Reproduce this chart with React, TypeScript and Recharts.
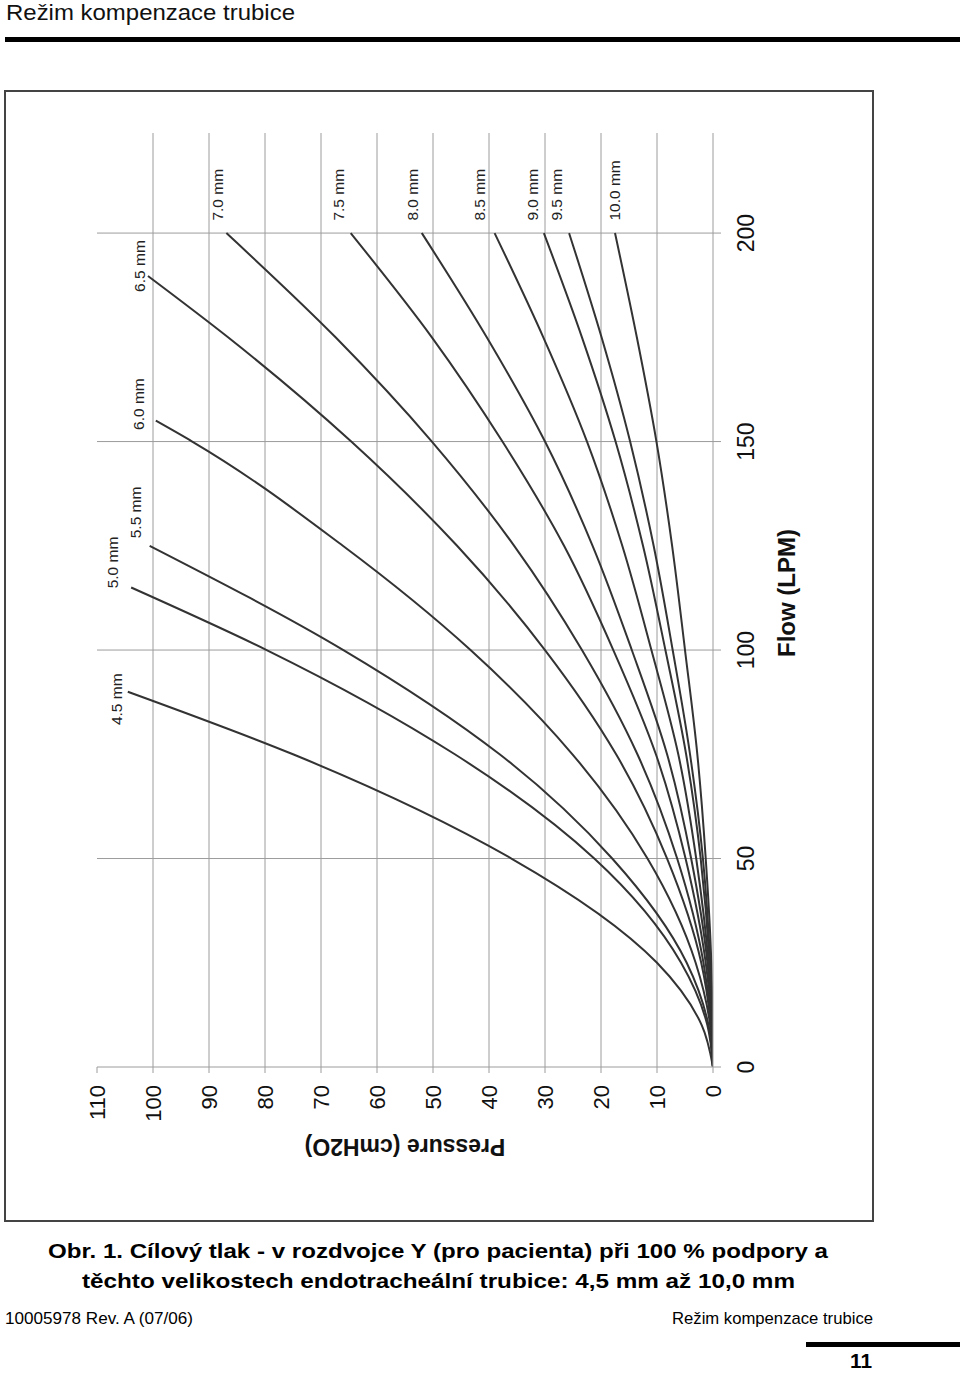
import React from 'react';
import { LineChart, Line, XAxis, YAxis, CartesianGrid, ReferenceDot } from 'recharts';

// flow (LPM) sample points; each curve stops at its own END_FLOW
const FLOW_STEPS = [0, 10, 25, 50, 75, 100, 125, 150, 175, 200];
const TUBES = ['4.5 mm', '5.0 mm', '5.5 mm', '6.0 mm', '6.5 mm', '7.0 mm', '7.5 mm', '8.0 mm', '8.5 mm', '9.0 mm', '9.5 mm', '10.0 mm'];
const END_FLOW = [90, 115, 125, 155, 189.7, 200, 200, 200, 200, 200, 200, 200];

// pressure (cmH2O) at FLOW_STEPS below END_FLOW, last value is at END_FLOW
const P_45 = [0, 2.0, 10.0, 36.0, 75.0, 104.5];
const P_50 = [0, 1.0, 5.7, 21.2, 46.1, 79.7, 103.9];
const P_55 = [0, 0.8, 4.7, 18.0, 38.1, 66.0, 100.6];
const P_60 = [0, 0.5, 3.1, 11.7, 25.1, 43.3, 66.1, 93.0, 99.5];
const P_65 = [0, 0.4, 2.1, 8.2, 17.3, 30.0, 45.7, 64.6, 86.6, 100.9];
const P_70 = [0, 0.3, 1.7, 6.4, 13.5, 23.4, 35.5, 50.2, 67.4, 86.9];
const P_75 = [0, 0.2, 1.3, 4.9, 10.2, 17.8, 26.6, 37.6, 50.2, 64.7];
const P_80 = [0, 0.2, 1.0, 3.9, 8.2, 14.5, 21.5, 30.0, 40.4, 52.0];
const P_85 = [0, 0.1, 0.8, 3.0, 6.2, 11.0, 16.2, 22.5, 30.3, 39.0];
const P_90 = [0, 0.1, 0.6, 2.2, 4.8, 8.5, 12.5, 17.4, 23.4, 30.2];
const P_95 = [0, 0.1, 0.5, 1.8, 4.1, 7.2, 10.6, 14.8, 19.9, 25.7];
const P_100 = [0, 0.1, 0.3, 1.3, 2.8, 5.0, 7.3, 10.1, 13.6, 17.5];
const PRESSURES = [P_45, P_50, P_55, P_60, P_65, P_70, P_75, P_80, P_85, P_90, P_95, P_100];

// where each tube label starts (flow, pressure)
const LABEL_FLOW = [82, 114.8, 126.8, 152.8, 185.9, 203, 203, 203, 203, 203, 203, 203];
const LABEL_P = [106.5, 107.3, 103.1, 102.6, 102.4, 88.5, 66.9, 53.6, 41.7, 32.2, 28.0, 17.6];

const FLOW_TICKS = [0, 50, 100, 150, 200];
const PRESSURE_TICKS = [0, 10, 20, 30, 40, 50, 60, 70, 80, 90, 100, 110];
const FLOW_GRID = [50, 100, 150, 200];
const PRESSURE_GRID = [10, 20, 30, 40, 50, 60, 70, 80, 90, 100];

const FONT = '"Liberation Sans", Arial, Helvetica, sans-serif';
const GRID = '#9c9c9c';
const INK = '#333333';

const CHART_W = 1130;
const CHART_H = 868;

function seriesFor(i: number) {
  const ps = PRESSURES[i];
  const steps = FLOW_STEPS.filter((f) => f < END_FLOW[i]);
  return ps.map((p, k) => ({ flow: k < steps.length ? steps[k] : END_FLOW[i], p }));
}

const FlowTick = (props: any) => (
  <text x={props.x} y={props.y + 23} textAnchor="middle" dominantBaseline="central"
    fontFamily={FONT} fontSize={23} fill="#111">
    {props.payload.value}
  </text>
);

const PressureTick = (props: any) => (
  <text x={props.x - 10} y={props.y} textAnchor="end" dominantBaseline="central"
    fontFamily={FONT} fontSize={22} fill="#111">
    {props.payload.value}
  </text>
);

function TubeChart() {
  return (
    <LineChart width={CHART_W} height={CHART_H} margin={{ top: 92, right: 42, bottom: 100, left: 94 }}>
      <CartesianGrid stroke={GRID} horizontalValues={PRESSURE_GRID} verticalValues={FLOW_GRID} />
      <XAxis
        type="number"
        dataKey="flow"
        domain={[0, 224]}
        ticks={FLOW_TICKS}
        allowDataOverflow
        height={60}
        tickSize={8}
        axisLine={{ stroke: GRID }}
        tickLine={{ stroke: GRID }}
        tick={<FlowTick />}
        label={{
          content: (p: any) => (
            <text x={p.viewBox.x + p.viewBox.width / 2 + 7} y={p.viewBox.y + 73}
              textAnchor="middle" dominantBaseline="central"
              fontFamily={FONT} fontSize={24} fontWeight="bold" fill="#111">
              Flow (LPM)
            </text>
          ),
        }}
      />
      <YAxis
        type="number"
        dataKey="p"
        domain={[0, 110]}
        ticks={PRESSURE_TICKS}
        allowDataOverflow
        width={60}
        tickSize={6}
        axisLine={{ stroke: GRID }}
        tickLine={{ stroke: GRID }}
        tick={<PressureTick />}
        label={{
          content: (p: any) => {
            const cx = 74;
            const cy = p.viewBox.y + p.viewBox.height / 2;
            return (
              <text x={cx} y={cy} transform={`rotate(-90 ${cx} ${cy})`}
                textAnchor="middle" dominantBaseline="central"
                fontFamily={FONT} fontSize={23} fontWeight="bold" fill="#111">
                Pressure (cmH2O)
              </text>
            );
          },
        }}
      />
      {TUBES.map((name, i) => (
        <Line
          key={name}
          data={seriesFor(i)}
          dataKey="p"
          type="monotone"
          stroke={INK}
          strokeWidth={2}
          dot={false}
          activeDot={false}
          isAnimationActive={false}
        />
      ))}
      {TUBES.map((name, i) => (
        <ReferenceDot
          key={'lbl' + name}
          x={LABEL_FLOW[i]}
          y={LABEL_P[i]}
          r={0}
          shape={(s: any) => (
            <text x={s.cx} y={s.cy} textAnchor="start" dominantBaseline="central"
              fontFamily={FONT} fontSize={15.5} fill="#222">
              {name}
            </text>
          )}
        />
      ))}
    </LineChart>
  );
}

export default function App() {
  return (
    <div style={{ position: 'absolute', left: 0, top: 0, width: 960, height: 1373, background: '#fff', overflow: 'hidden' }}>
      <svg width={960} height={1373} style={{ position: 'absolute', left: 0, top: 0 }} fontFamily={FONT}>
        <text x={6} y={20} fontSize={22} fill="#111" textLength={289} lengthAdjust="spacingAndGlyphs">Režim kompenzace trubice</text>
        <rect x={5} y={37} width={955} height={5} fill="#000" />
        <rect x={5} y={91} width={868} height={1130} fill="none" stroke="#444" strokeWidth={2} />
        <text x={48} y={1258} fontSize={21} fontWeight="bold" fill="#000" textLength={780} lengthAdjust="spacingAndGlyphs">
          Obr. 1. Cílový tlak - v rozdvojce Y (pro pacienta) při 100 % podpory a
        </text>
        <text x={82} y={1288} fontSize={21} fontWeight="bold" fill="#000" textLength={713} lengthAdjust="spacingAndGlyphs">
          těchto velikostech endotracheální trubice: 4,5 mm až 10,0 mm
        </text>
        <text x={5} y={1324} fontSize={17} fill="#000" textLength={188} lengthAdjust="spacingAndGlyphs">10005978 Rev. A (07/06)</text>
        <text x={672} y={1324} fontSize={17} fill="#000" textLength={201} lengthAdjust="spacingAndGlyphs">Režim kompenzace trubice</text>
        <rect x={806} y={1342} width={154} height={5} fill="#000" />
        <text x={850} y={1368} fontSize={20} fontWeight="bold" fill="#000" textLength={22} lengthAdjust="spacingAndGlyphs">11</text>
      </svg>
      <div
        style={{
          position: 'absolute',
          left: 5,
          top: 91 + CHART_W,
          width: CHART_W,
          height: CHART_H,
          transformOrigin: '0 0',
          transform: 'rotate(-90deg)',
        }}
      >
        <TubeChart />
      </div>
    </div>
  );
}
